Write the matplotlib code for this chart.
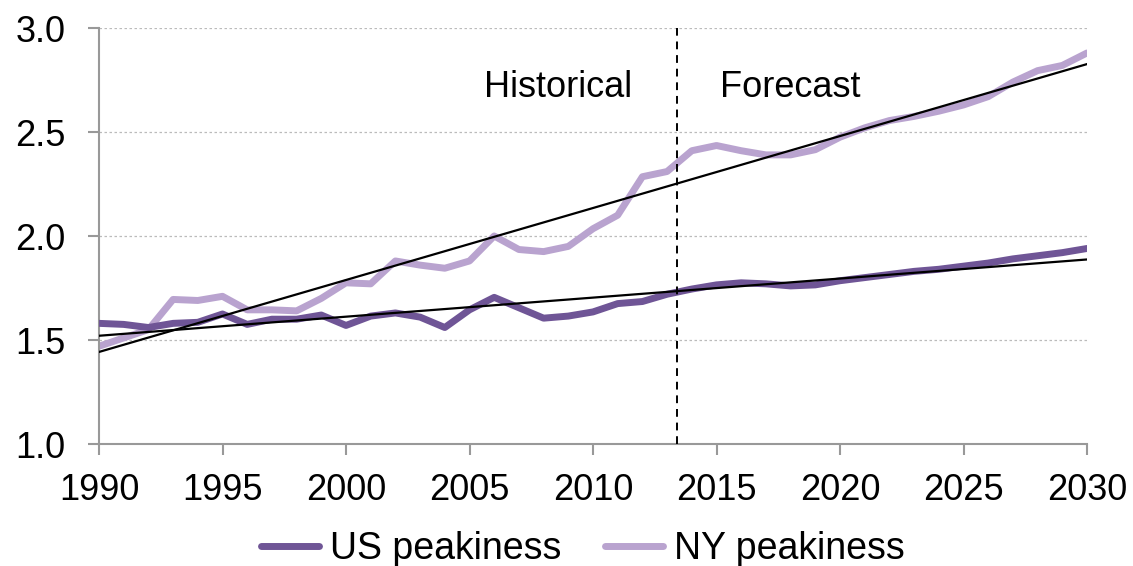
import numpy as np
import matplotlib
matplotlib.use("Agg")
import matplotlib.pyplot as plt

years = list(range(1990, 2031))
us_peakiness = [1.58, 1.575, 1.56, 1.58, 1.585, 1.625, 1.575, 1.60, 1.60, 1.62,
                1.57, 1.615, 1.63, 1.61, 1.56, 1.645, 1.705, 1.655, 1.605, 1.615,
                1.635, 1.675, 1.685, 1.72, 1.745, 1.765, 1.775, 1.77, 1.76, 1.765,
                1.785, 1.80, 1.815, 1.83, 1.84, 1.855, 1.87, 1.89, 1.905, 1.92, 1.94]
ny_peakiness = [1.47, 1.51, 1.55, 1.695, 1.69, 1.71, 1.645, 1.645, 1.64, 1.70,
                1.775, 1.77, 1.88, 1.86, 1.845, 1.88, 2.00, 1.935, 1.925, 1.95,
                2.035, 2.10, 2.285, 2.31, 2.41, 2.435, 2.41, 2.39, 2.39, 2.415,
                2.475, 2.52, 2.555, 2.575, 2.60, 2.63, 2.67, 2.74, 2.795, 2.82, 2.88]
split_year = 2013.4
x_ticks = [1990, 1995, 2000, 2005, 2010, 2015, 2020, 2025, 2030]
y_ticks = [1.0, 1.5, 2.0, 2.5, 3.0]

plt.rcParams['font.family'] = ['Liberation Sans', 'DejaVu Sans']
FS = 26

fig = plt.figure(figsize=(11.33, 5.66), dpi=100)
ax = fig.add_axes([99/1133, 1-444/566, (1087-99)/1133, (444-28)/566])

yrs = np.array(years)
l1, = ax.plot(yrs, us_peakiness, color='#6F5596', lw=5, solid_capstyle='round', solid_joinstyle='round',
              label='US peakiness', zorder=3)
l2, = ax.plot(yrs, ny_peakiness, color='#B9A3CF', lw=5, solid_capstyle='round', solid_joinstyle='round',
              label='NY peakiness', zorder=2)

for series in (us_peakiness, ny_peakiness):
    c = np.polyfit(yrs, series, 1)
    ax.plot(yrs, np.polyval(c, yrs), color='black', lw=1.6, zorder=4)

ax.axvline(split_year, color='black', lw=1.4, ls=(0, (4, 3)), zorder=5)
ax.text(2008.6, 2.668, 'Historical', ha='center', va='baseline', fontsize=FS)
ax.text(2018.0, 2.668, 'Forecast', ha='center', va='baseline', fontsize=FS)

ax.set_xlim(1990, 2030)
ax.set_ylim(1.0, 3.0)
ax.set_xticks(x_ticks)
ax.set_yticks(y_ticks)
ax.set_yticklabels([f'{v:.1f}' for v in y_ticks])
ax.tick_params(axis='both', labelsize=FS, color='#999999', length=8, width=1.5, direction='out')
ax.tick_params(axis='x', pad=13)
ax.tick_params(axis='y', pad=16)
ax.yaxis.grid(True, color='#BBBBBB', ls=(0, (2, 2)), lw=0.9)
ax.set_axisbelow(True)
for s in ['top', 'right']:
    ax.spines[s].set_visible(False)
for s in ['left', 'bottom']:
    ax.spines[s].set_color('#999999')
    ax.spines[s].set_linewidth(1.5)

fig.legend(handles=[l1, l2], loc='center', bbox_to_anchor=(583/1133, 1-549/566), ncol=2,
           frameon=False, fontsize=27, handlelength=1.55, columnspacing=1.15, handletextpad=0.3)

fig.savefig('out.png', dpi=100)
